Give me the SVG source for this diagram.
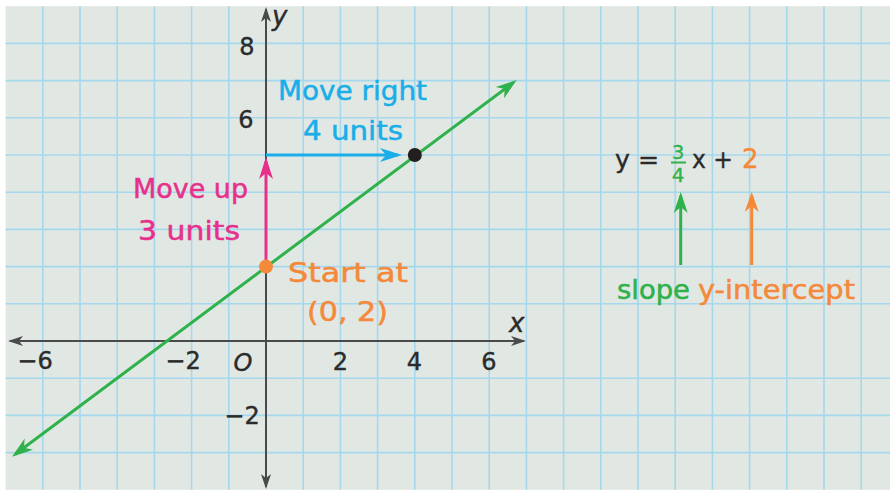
<svg xmlns="http://www.w3.org/2000/svg" width="890" height="491" viewBox="0 0 890 491">
<defs>
<style>
.grid{stroke:#a5d8ec;stroke-width:1.6;fill:none}
.axis{stroke:#4a4a4a;stroke-width:2;fill:none}
.t{font-family:"DejaVu Sans",sans-serif}
.tick{font-family:"DejaVu Sans",sans-serif;font-size:24px;fill:#2b2b2b;text-anchor:middle;stroke:#2b2b2b;stroke-width:0.4}
.lbl{font-family:"DejaVu Sans",sans-serif;font-size:26px;stroke-width:0.5}
</style>
<marker id="axArrow" markerUnits="userSpaceOnUse" viewBox="-16 -6 18 12" markerWidth="18" markerHeight="12" refX="-2" refY="0" orient="auto-start-reverse" overflow="visible">
<path d="M0,0 L-15,-5 L-11,0 L-15,5 Z" fill="#4a4a4a"/>
</marker>
<marker id="gArrow" markerUnits="userSpaceOnUse" viewBox="-24 -8 26 16" markerWidth="26" markerHeight="16" refX="-4" refY="0" orient="auto-start-reverse" overflow="visible">
<path d="M0,0 L-21,-7 L-15,0 L-21,7 Z" fill="#2fb14b"/>
</marker>
<marker id="mArrow" markerUnits="userSpaceOnUse" viewBox="-24 -8 26 16" markerWidth="26" markerHeight="16" refX="-4" refY="0" orient="auto" overflow="visible">
<path d="M0,0 L-22,-7 L-16,0 L-22,7 Z" fill="#e6318c"/>
</marker>
<marker id="bArrow" markerUnits="userSpaceOnUse" viewBox="-24 -8 26 16" markerWidth="26" markerHeight="16" refX="-4" refY="0" orient="auto" overflow="visible">
<path d="M0,0 L-22,-7 L-16,0 L-22,7 Z" fill="#1aaee8"/>
</marker>
<marker id="oArrow" markerUnits="userSpaceOnUse" viewBox="-24 -8 26 16" markerWidth="26" markerHeight="16" refX="-4" refY="0" orient="auto" overflow="visible">
<path d="M0,0 L-20,-7 L-14,0 L-20,7 Z" fill="#f5893a"/>
</marker>
</defs>
<rect width="890" height="491" fill="#ffffff"/>
<g id="graph-paper">
<rect x="5.6" y="6.2" width="884.4" height="483.6" fill="#e1e8e4"/>
<path class="grid" d="M42.8 6.2V489.8M80 6.2V489.8M117.2 6.2V489.8M154.4 6.2V489.8M191.6 6.2V489.8M228.8 6.2V489.8M303.2 6.2V489.8M340.4 6.2V489.8M377.6 6.2V489.8M414.8 6.2V489.8M452 6.2V489.8M489.2 6.2V489.8M526.4 6.2V489.8M563.6 6.2V489.8M600.8 6.2V489.8M638 6.2V489.8M675.2 6.2V489.8M712.4 6.2V489.8M749.6 6.2V489.8M786.8 6.2V489.8M824 6.2V489.8M861.2 6.2V489.8M5.6 43.4H890M5.6 80.6H890M5.6 117.8H890M5.6 155H890M5.6 192.2H890M5.6 229.4H890M5.6 266.6H890M5.6 303.8H890M5.6 378.2H890M5.6 415.4H890M5.6 452.6H890"/>
</g>
<g id="axes">
<path class="axis" d="M266 487V9" marker-start="url(#axArrow)" marker-end="url(#axArrow)"/>
<path class="axis" d="M10 341H524" marker-start="url(#axArrow)" marker-end="url(#axArrow)"/>
<text class="t" x="272" y="25" font-size="26" font-style="italic" fill="#2b2b2b" stroke="#2b2b2b" stroke-width="0.4">y</text>
<text class="t" x="509" y="332" font-size="26" font-style="italic" fill="#2b2b2b" stroke="#2b2b2b" stroke-width="0.4">x</text>
</g>
<g id="ticks">
<text class="tick" x="247" y="55" font-size="27">8</text>
<text class="tick" x="246" y="128" font-size="27">6</text>
<text class="tick" x="35" y="369">−6</text>
<text class="tick" x="183" y="369">−2</text>
<text class="tick" x="243" y="371" font-style="italic" font-size="26">O</text>
<text class="tick" x="340.5" y="370">2</text>
<text class="tick" x="414.5" y="370">4</text>
<text class="tick" x="489" y="370">6</text>
<text class="tick" x="242" y="424">−2</text>
</g>
<g id="connectors">
<path id="line" d="M15.2 454.3L513.5 82.4" stroke="#2fb14b" stroke-width="3" fill="none" marker-start="url(#gArrow)" marker-end="url(#gArrow)"/>
<path id="rise" d="M266 266.6V161" stroke="#e6318c" stroke-width="3" fill="none" marker-end="url(#mArrow)"/>
<path id="run" d="M266 155H398" stroke="#1aaee8" stroke-width="3" fill="none" marker-end="url(#bArrow)"/>
<path id="slope-arrow" d="M680.7 265V196" stroke="#2fb14b" stroke-width="3" fill="none" marker-end="url(#gArrow)"/>
<path id="intercept-arrow" d="M751.7 265V196" stroke="#f5893a" stroke-width="3" fill="none" marker-end="url(#oArrow)"/>
</g>
<g id="point-start">
<circle cx="266" cy="266.6" r="7" fill="#f5893a"/>
<text class="lbl" x="288" y="282" fill="#f5893a" stroke="#f5893a" textLength="120" lengthAdjust="spacingAndGlyphs">Start at</text>
<text class="lbl" x="307" y="321" fill="#f5893a" stroke="#f5893a" textLength="81" lengthAdjust="spacingAndGlyphs">(0, 2)</text>
</g>
<g id="point-end">
<circle cx="414.8" cy="155" r="7" fill="#231f20"/>
</g>
<g id="label-up">
<text class="lbl" x="133" y="198" fill="#e6318c" stroke="#e6318c" textLength="115" lengthAdjust="spacingAndGlyphs">Move up</text>
<text class="lbl" x="138" y="240" fill="#e6318c" stroke="#e6318c" textLength="102" lengthAdjust="spacingAndGlyphs">3 units</text>
</g>
<g id="label-right">
<text class="lbl" x="278" y="100" fill="#1aaee8" stroke="#1aaee8" textLength="149" lengthAdjust="spacingAndGlyphs">Move right</text>
<text class="lbl" x="303" y="140" fill="#1aaee8" stroke="#1aaee8" textLength="100" lengthAdjust="spacingAndGlyphs">4 units</text>
</g>
<g id="equation">
<text class="t" x="615" y="168" font-size="25" fill="#2b2b2b" stroke="#2b2b2b" stroke-width="0.4" textLength="44" lengthAdjust="spacingAndGlyphs">y =</text>
<text class="t" x="678" y="159" font-size="20" fill="#2fb14b" stroke="#2fb14b" stroke-width="0.3" text-anchor="middle">3</text>
<path d="M671 162.5H686" stroke="#2fb14b" stroke-width="2"/>
<text class="t" x="678" y="182" font-size="20" fill="#2fb14b" stroke="#2fb14b" stroke-width="0.3" text-anchor="middle">4</text>
<text class="t" x="692" y="168" font-size="25" fill="#2b2b2b" stroke="#2b2b2b" stroke-width="0.4" textLength="41" lengthAdjust="spacingAndGlyphs">x +</text>
<text class="t" x="742" y="168" font-size="26" fill="#f5893a" stroke="#f5893a" stroke-width="0.4">2</text>
</g>
<g id="label-slope">
<text class="lbl" x="617" y="299" fill="#2fb14b" stroke="#2fb14b" textLength="73" lengthAdjust="spacingAndGlyphs">slope</text>
</g>
<g id="label-intercept">
<text class="lbl" x="698" y="299" fill="#f5893a" stroke="#f5893a" textLength="157" lengthAdjust="spacingAndGlyphs">y-intercept</text>
</g>
</svg>
